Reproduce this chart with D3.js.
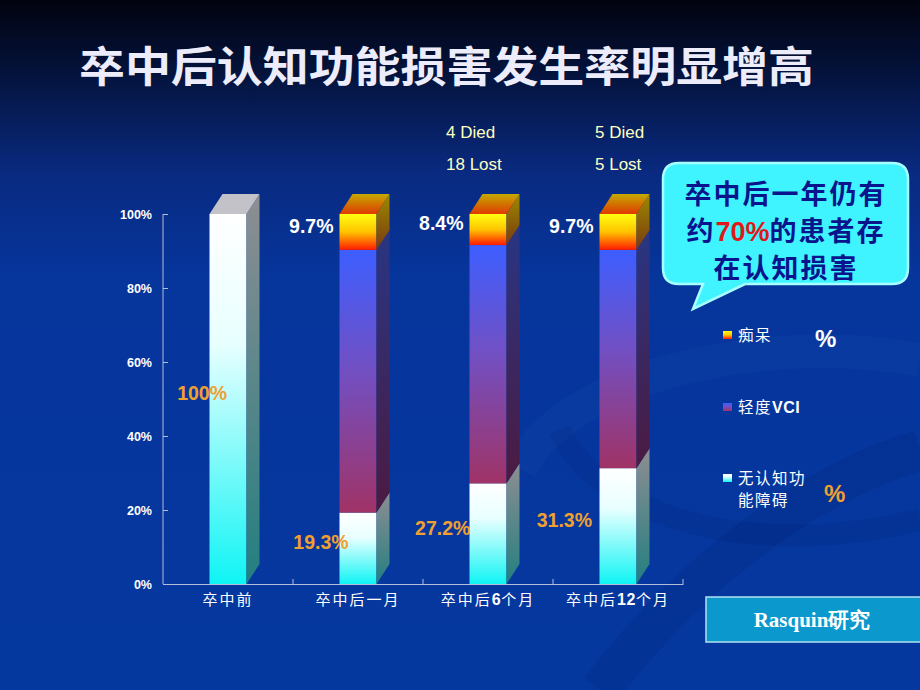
<!DOCTYPE html>
<html>
<head>
<meta charset="utf-8">
<script src="https://cdn.jsdelivr.net/npm/d3@7"></script>
<style>
  body { margin: 0; background: #05389f; }
  svg { display: block; }
</style>
</head>
<body>
<div id="chart"></div>
<script>
// data
var categories = ["卒中前", "卒中后一月", "卒中后6个月", "卒中后12个月"];
var normal   = [100, 19.3, 27.2, 31.3];   // 无认知功能障碍
var mildVci  = [0, 71.0, 64.4, 59.0];     // 轻度VCI
var dementia = [0, 9.7, 8.4, 9.7];        // 痴呆
var yTicks = [0, 20, 40, 60, 80, 100];
var noteCats = ["卒中后6个月", "卒中后12个月"];
var died = ["4 Died", "5 Died"];
var lost = ["18 Lost", "5 Lost"];
var legendNames = ["痴呆", "轻度VCI", "无认知功|能障碍"];

function init()
{
  var W = 920, H = 690;
  var svg = d3.select("#chart").append("svg")
    .attr("width", W).attr("height", H);
  var defs = svg.append("defs");

  function vgrad(id, stops) {
    var g = defs.append("linearGradient").attr("id", id)
      .attr("x1", 0).attr("y1", 0).attr("x2", 0).attr("y2", 1);
    stops.forEach(function(s) {
      g.append("stop").attr("offset", s[0]).attr("stop-color", s[1]);
    });
  }
  vgrad("bg", [[0, "#01030e"], [0.1, "#04123a"], [0.25, "#092a80"], [0.4, "#06359c"], [1, "#05389f"]]);
  vgrad("fNormal", [[0, "#ffffff"], [0.35, "#e8ffff"], [1, "#10f4f4"]]);
  vgrad("sNormal", [[0, "#8e8e92"], [1, "#237f80"]]);
  vgrad("fVci", [[0, "#3d5eff"], [0.45, "#7150c4"], [1, "#a03366"]]);
  vgrad("sVci", [[0, "#283684"], [1, "#4c1a40"]]);
  vgrad("fDem", [[0, "#ffff10"], [0.5, "#ffc400"], [1, "#ff1a00"]]);
  vgrad("sDem", [[0, "#9c8a00"], [1, "#7a3a10"]]);
  vgrad("tDem", [[0, "#c4aa00"], [1, "#e03a00"]]);

  svg.append("rect").attr("width", W).attr("height", H).attr("fill", "url(#bg)");

  // faint background swooshes
  var sw = svg.append("g").attr("fill", "none");
  sw.append("path").attr("d", "M 520 470 C 560 380, 760 330, 920 360")
    .attr("stroke", "rgba(120,160,255,0.035)").attr("stroke-width", 34);
  sw.append("path").attr("d", "M 600 690 C 700 560, 820 480, 920 450")
    .attr("stroke", "rgba(0,20,90,0.12)").attr("stroke-width", 40);
  sw.append("path").attr("d", "M 560 430 C 600 520, 760 560, 920 520")
    .attr("stroke", "rgba(0,20,90,0.1)").attr("stroke-width", 22);

  // title
  svg.append("text")
    .attr("x", 79).attr("y", 82)
    .attr("textLength", 735).attr("lengthAdjust", "spacingAndGlyphs")
    .style("font-family", "'Noto Sans CJK SC', sans-serif")
    .style("font-size", "42px").style("font-weight", "bold")
    .style("fill", "#ececfa")
    .text("卒中后认知功能损害发生率明显增高");

  var x0 = 163, x1 = 683, y0 = 584, y1 = 214;
  var xScale = d3.scaleBand().domain(categories).range([x0, x1]);
  var yScale = d3.scaleLinear().domain([0, 100]).range([y0, y1]);
  var labelX = d3.scalePoint().domain(categories).range([227, 592]);
  var noteX = d3.scalePoint().domain(noteCats).range([446, 595]);
  var barW = 37, dx = 13, dy = -20;

  var table = categories.map(function(c, i) {
    return {cat: c, normal: normal[i], vci: mildVci[i], dementia: dementia[i]};
  });
  var keys = ["normal", "vci", "dementia"];
  var series = d3.stack().keys(keys)(table);
  var fills = {normal: ["url(#fNormal)", "url(#sNormal)", "#c2c2c8"],
               vci: ["url(#fVci)", "url(#sVci)", "#3a4ab0"],
               dementia: ["url(#fDem)", "url(#sDem)", "url(#tDem)"]};

  // axes
  var axisColor = "#b4bcd8";
  var yAxis = svg.append("g")
    .attr("transform", "translate(" + x0 + ",0)")
    .call(d3.axisLeft(yScale).tickValues(yTicks).tickSize(-5).tickPadding(11)
      .tickFormat(function(d) { return d + "%"; }));
  yAxis.select(".domain").attr("stroke", axisColor).attr("d", "M0," + y0 + "V" + y1);
  yAxis.selectAll(".tick line").attr("stroke", axisColor);
  yAxis.selectAll(".tick text")
    .style("font-family", "'Liberation Sans', Arial, sans-serif")
    .style("font-size", "12.5px").style("font-weight", "bold").attr("fill", "#ffffff");

  var xAxis = svg.append("g")
    .attr("transform", "translate(0," + y0 + ")")
    .call(d3.axisBottom(xScale).tickSize(0).tickPadding(10));
  xAxis.select(".domain").attr("stroke", axisColor);
  xAxis.selectAll(".tick text")
    .style("font-family", "'Noto Sans CJK SC', sans-serif")
    .style("font-size", "15px").style("letter-spacing", "2px")
    .attr("fill", "#ffffff")
    .each(function(d) {
      // digits are bold sans in the original
      var t = d3.select(this).text("");
      d.split(/(\d+)/).forEach(function(p) {
        if (!p) return;
        var ts = t.append("tspan").text(p);
        if (/\d/.test(p)) ts.style("font-family", "'Liberation Sans', Arial, sans-serif")
          .style("font-weight", "bold").style("font-size", "16px").style("letter-spacing", "0.5px");
      });
    });
  xAxis.selectAll(".sep").data(categories).enter().append("line")
    .attr("x1", function(d) { return xScale(d) + xScale.step(); })
    .attr("x2", function(d) { return xScale(d) + xScale.step(); })
    .attr("y1", 0).attr("y2", -5).attr("stroke", axisColor);

  // 3D stacked bars
  var bars = svg.append("g");
  table.forEach(function(row, i) {
    var left = xScale(row.cat) + xScale.bandwidth() / 2 - barW / 2;
    var right = left + barW;
    var topKey = null;
    series.forEach(function(s) {
      var seg = s[i];
      if (seg[1] - seg[0] <= 0) return;
      topKey = s.key;
      var yt = yScale(seg[1]), yb = yScale(seg[0]);
      bars.append("rect")
        .attr("x", left).attr("y", yt).attr("width", barW).attr("height", yb - yt)
        .attr("fill", fills[s.key][0]);
      bars.append("path")
        .attr("d", "M" + right + "," + yt + "L" + (right + dx) + "," + (yt + dy) +
          "L" + (right + dx) + "," + (yb + dy) + "L" + right + "," + yb + "Z")
        .attr("fill", fills[s.key][1]);
    });
    var yTop = yScale(100);
    bars.append("path")
      .attr("d", "M" + left + "," + yTop + "L" + (left + dx) + "," + (yTop + dy) +
        "L" + (right + dx) + "," + (yTop + dy) + "L" + right + "," + yTop + "Z")
      .attr("fill", fills[topKey][2]);
  });

  var labelFont = "'Liberation Sans', Arial, sans-serif";
  // bottom (normal) labels
  svg.selectAll(".nlab").data(table).enter().append("text")
    .attr("x", function(d) { return labelX(d.cat); })
    .attr("y", function(d) { return yScale(d.normal / 2) - 6; })
    .attr("dy", "0.35em")
    .attr("text-anchor", "end")
    .style("font-family", labelFont).style("font-size", "19.5px").style("font-weight", "bold")
    .attr("fill", "#f0a030")
    .text(function(d) { return d.normal + "%"; });

  // dementia labels
  svg.selectAll(".dlab").data(table.filter(function(d) { return d.dementia > 0; })).enter().append("text")
    .attr("x", function(d) { return xScale(d.cat) + xScale.bandwidth() / 2 - barW / 2 - 6; })
    .attr("y", function(d) { return yScale(100 - d.dementia / 2) - 6; })
    .attr("dy", "0.35em")
    .attr("text-anchor", "end")
    .style("font-family", labelFont).style("font-size", "19.5px").style("font-weight", "bold")
    .attr("fill", "#ffffff")
    .text(function(d) { return d.dementia + "%"; });

  // died / lost notes
  noteCats.forEach(function(c, i) {
    [[died[i], 132], [lost[i], 164]].forEach(function(t) {
      svg.append("text")
        .attr("x", noteX(c)).attr("y", t[1]).attr("dy", "0.35em")
        .style("font-family", labelFont).style("font-size", "17px")
        .attr("fill", "#ffffc0")
        .text(t[0]);
    });
  });

  // callout bubble
  var cx = 663, cy = 163, cw = 245, ch = 121, r = 16;
  var bubble = "M" + (cx + r) + "," + cy + "H" + (cx + cw - r) +
    "Q" + (cx + cw) + "," + cy + " " + (cx + cw) + "," + (cy + r) +
    "V" + (cy + ch - r) + "Q" + (cx + cw) + "," + (cy + ch) + " " + (cx + cw - r) + "," + (cy + ch) +
    "H745L693,309L703," + (cy + ch) +
    "H" + (cx + r) + "Q" + cx + "," + (cy + ch) + " " + cx + "," + (cy + ch - r) +
    "V" + (cy + r) + "Q" + cx + "," + cy + " " + (cx + r) + "," + cy + "Z";
  svg.append("path").attr("d", bubble)
    .attr("fill", "#3ff4ff").attr("stroke", "#a8ffff").attr("stroke-width", 2.5);

  var calloutFont = "'Noto Sans CJK SC', sans-serif";
  var lines = [["卒中后一年仍有"], ["约", "70%", "的患者存"], ["在认知损害"]];
  lines.forEach(function(parts, i) {
    var t = svg.append("text")
      .attr("x", 786).attr("y", 194 + i * 37).attr("dy", "0.36em")
      .attr("text-anchor", "middle")
      .style("font-family", calloutFont).style("font-size", "27px").style("font-weight", "bold")
      .style("letter-spacing", "2px")
      .attr("fill", "#0a148c");
    parts.forEach(function(p) {
      var ts = t.append("tspan").text(p);
      if (p === "70%") ts.attr("fill", "#e01818").style("font-family", labelFont).style("letter-spacing", "0px");
    });
  });

  // legend
  var legY = [335, 407, 478];
  var legFill = ["url(#fDem)", "url(#fVci)", "url(#fNormal)"];
  legendNames.forEach(function(n, i) {
    svg.append("rect").attr("x", 723).attr("y", legY[i] - 4).attr("width", 9).attr("height", 8)
      .attr("fill", legFill[i]);
    n.split("|").forEach(function(line, j) {
      var t = svg.append("text")
        .attr("x", 738).attr("y", legY[i] + j * 22).attr("dy", "0.36em")
        .style("font-family", "'Noto Sans CJK SC', sans-serif").style("font-size", "15.5px")
        .style("letter-spacing", "1.5px")
        .attr("fill", "#ffffff");
      line.split(/([A-Z]+)/).forEach(function(p) {
        if (!p) return;
        var ts = t.append("tspan").text(p);
        if (/[A-Z]/.test(p)) ts.style("font-family", labelFont).style("font-weight", "bold")
          .style("font-size", "16px").style("letter-spacing", "0.5px");
      });
    });
  });
  svg.append("text").attr("x", 815).attr("y", 338).attr("dy", "0.36em")
    .style("font-family", labelFont).style("font-size", "24px").style("font-weight", "bold")
    .attr("fill", "#ffffff").text("%");
  svg.append("text").attr("x", 824).attr("y", 493).attr("dy", "0.36em")
    .style("font-family", labelFont).style("font-size", "24px").style("font-weight", "bold")
    .attr("fill", "#f0a030").text("%");

  // source box
  svg.append("rect").attr("x", 706).attr("y", 597).attr("width", 216).attr("height", 45)
    .attr("fill", "#0b98cc").attr("stroke", "#b0e2f2").attr("stroke-width", 1.5);
  svg.append("text").attr("x", 812).attr("y", 620).attr("dy", "0.35em")
    .attr("text-anchor", "middle")
    .style("font-family", "'Liberation Serif', 'DejaVu Serif', serif")
    .style("font-size", "21px").style("font-weight", "bold")
    .attr("fill", "#ffffff").text("Rasquin研究");
}

window.onload = init;
</script>
</body>
</html>
